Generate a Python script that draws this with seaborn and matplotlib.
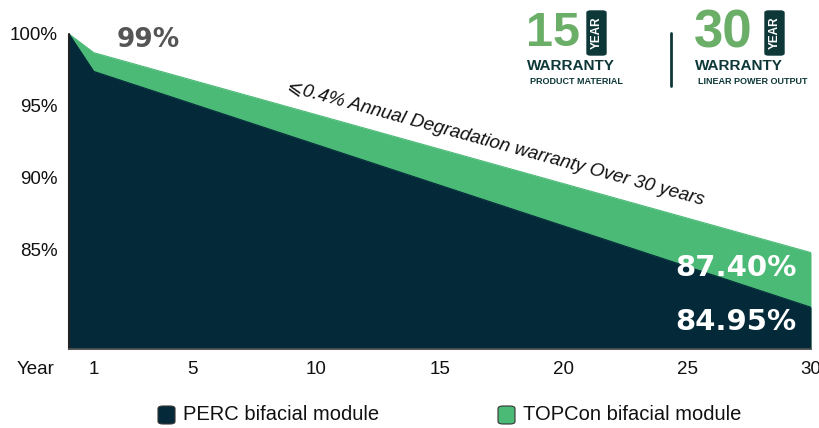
import matplotlib
matplotlib.use("Agg")
import matplotlib.pyplot as plt
from matplotlib.patches import FancyBboxPatch
from matplotlib.lines import Line2D
import seaborn as sns

# values
years = [0, 1, 30]
perc = [100, 97.4, 81.0]
topcon = [100, 98.7, 84.8]
xticks = [1, 5, 10, 15, 20, 25, 30]
yticks = [85, 90, 95, 100]
series_names = ["PERC bifacial module", "TOPCon bifacial module"]

DARK = "#042a3a"
GREEN = "#4cba77"
BADGE_GREEN = "#6aae68"
BADGE_DARK = "#0e3838"
YMIN = 78.1

sns.set_theme(style="white")
plt.rcParams['font.family'] = ['Liberation Sans', 'DejaVu Sans']

W, H = 820, 428
fig = plt.figure(figsize=(W / 100, H / 100), dpi=100)

def fx(x):
    return x / W

def fy(y):
    return 1 - y / H

ax = fig.add_axes([fx(69), fy(349), (811 - 69) / W, (349 - 19.6) / H])

ax.fill_between(years, topcon, YMIN, color=GREEN, lw=0)
ax.fill_between(years, perc, YMIN, color=DARK, lw=0)
sns.lineplot(x=years, y=topcon, color=GREEN, lw=0.8, ax=ax)
sns.lineplot(x=years, y=perc, color=DARK, lw=0.8, ax=ax)
# dark edge on the left of the area
ax.plot([0, 0], [YMIN, 100], color='#222222', lw=1.5, clip_on=False)

ax.set_xlim(0, 30)
ax.set_ylim(YMIN, 101)
ax.set_xticks(xticks)
ax.set_xticklabels([str(t) for t in xticks])
ax.set_yticks(yticks)
ax.set_yticklabels([f"{t}%" for t in yticks])
ax.tick_params(axis='x', direction='in', length=4, width=1, color='#333333',
               pad=9, labelsize=13.5, labelcolor='#111111')
ax.tick_params(axis='y', length=0, pad=8, labelsize=13.5, labelcolor='#111111')
for s in ['top', 'right', 'left']:
    ax.spines[s].set_visible(False)
ax.spines['bottom'].set_color('#555555')
ax.spines['bottom'].set_linewidth(1.2)
ax.set_xlabel("")
ax.set_ylabel("")

fig.text(fx(36), fy(369), "Year", ha='center', va='center', fontsize=13.5, color='#111111')

# labels on the areas
ax.text(3.2, 99.6, "99%", ha='center', va='center', fontsize=19,
        fontweight='bold', color='#555555', family='DejaVu Sans')
ax.text(26.97, 83.75, "87.40%", ha='center', va='center', fontsize=21,
        fontweight='bold', color='white', family='DejaVu Sans')
ax.text(26.97, 80.0, "84.95%", ha='center', va='center', fontsize=21,
        fontweight='bold', color='white', family='DejaVu Sans')
ax.text(17.25, 92.36, "⩽0.4% Annual Degradation warranty Over 30 years",
        ha='center', va='center', rotation=-15.3, rotation_mode='anchor',
        fontsize=13.6, style='italic', color='#111111',
        family=['Liberation Sans', 'DejaVu Sans'])

# warranty badges
def badge(x0, num, box_x, sub, size):
    fig.text(fx(x0 - 1), fy(33), num, ha='left', va='center', fontsize=size,
             color=BADGE_GREEN, fontweight='bold')
    fig.patches.append(FancyBboxPatch((fx(box_x), fy(55)), fx(19), (55 - 11) / H,
                                      boxstyle="round,pad=0,rounding_size=0.004",
                                      transform=fig.transFigure, color=BADGE_DARK))
    fig.text(fx(box_x + 9.5), fy(33), "YEAR", rotation=90, ha='center', va='center',
             fontsize=8.5, fontweight='bold', color='white')
    fig.text(fx(x0), fy(66), "WARRANTY", ha='left', va='center', fontsize=11,
             fontweight='bold', color=BADGE_DARK)
    fig.text(fx(x0 + 3), fy(81), sub, ha='left', va='center', fontsize=6.5,
             fontweight='bold', color=BADGE_DARK)

badge(527, "15", 587, "PRODUCT MATERIAL", 35)
badge(695, "30", 765, "LINEAR POWER OUTPUT", 38)
fig.lines.append(Line2D([fx(671), fx(671)], [fy(33), fy(86)], transform=fig.transFigure,
                        color=BADGE_DARK, lw=2))

# legend
for (lx, col, name) in [(158, DARK, series_names[0]), (498, GREEN, series_names[1])]:
    fig.patches.append(FancyBboxPatch((fx(lx), fy(424)), fx(17), 18 / H,
                                      boxstyle="round,pad=0,rounding_size=0.006",
                                      transform=fig.transFigure, facecolor=col,
                                      edgecolor='#333333', lw=0.8))
    fig.text(fx(lx + 25), fy(415), name, ha='left', va='center', fontsize=14.5,
             color='#111111')

fig.savefig("out.png", dpi=100)
